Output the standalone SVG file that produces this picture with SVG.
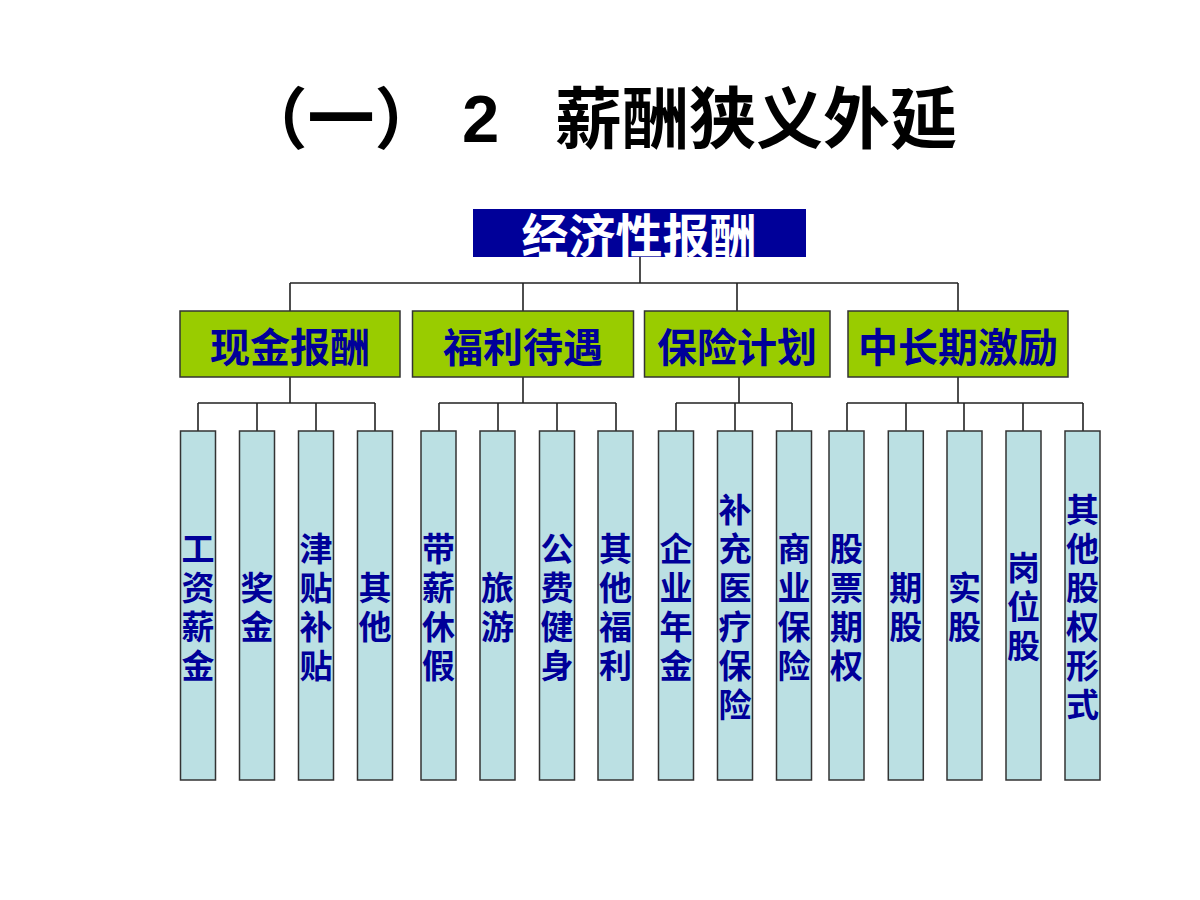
<svg xmlns="http://www.w3.org/2000/svg" width="1200" height="900" viewBox="0 0 1200 900">
<style>
.cjk{font-family:"Noto Sans CJK SC","Noto Sans CJK JP",sans-serif;font-weight:700}
.title{font-size:67px;fill:#000}
.top{font-size:47px;fill:#fff}
.l2{fill:#99CC00;stroke:#333;stroke-width:1.5}
.l2t{font-size:40px;fill:#000099}
.leaf{fill:#BBE0E3;stroke:#333;stroke-width:1.5}
.lt{font-family:"Liberation Sans","Noto Sans CJK SC","Noto Sans CJK JP",sans-serif;font-weight:700;font-size:33px;fill:#000099}
.conn{fill:none;stroke:#222;stroke-width:1.6}
</style>
<defs>
<clipPath id="topclip"><rect x="473" y="209" width="333" height="48"/></clipPath>
</defs>
<rect width="1200" height="900" fill="#fff"/>
<g id="title">
<text class="cjk title" x="341" y="143" text-anchor="middle">（一）</text>
<text x="462" y="142" font-family="Liberation Sans,Arial,sans-serif" font-weight="700" font-size="67">2</text>
<text class="cjk title" x="555" y="143">薪酬狭义外延</text>
</g>
<g id="connectors">
<path class="conn" d="M640 257V283M290 283H958M290 283V311M523 283V311M737 283V311M958 283V311"/>
<path class="conn" d="M290 377V403M198 403H375M198 403V431M257 403V431M316 403V431M375 403V431"/>
<path class="conn" d="M523 377V403M439 403H616M439 403V431M498 403V431M557 403V431M616 403V431"/>
<path class="conn" d="M739 377V403M676 403H792M676 403V431M735 403V431M792 403V431"/>
<path class="conn" d="M958 377V403M847 403H1083M847 403V431M906 403V431M964 403V431M1023 403V431M1083 403V431"/>
</g>
<g id="root">
<rect x="473" y="209" width="333" height="48" fill="#000099"/>
<text class="cjk top" x="639" y="253" text-anchor="middle" clip-path="url(#topclip)">经济性报酬</text>
</g>
<g id="n-cash"><rect class="l2" x="180" y="311" width="220" height="66"/><text class="cjk l2t" x="290" y="362" text-anchor="middle">现金报酬</text></g>
<g id="n-welfare"><rect class="l2" x="412.5" y="311" width="221" height="66"/><text class="cjk l2t" x="523" y="362" text-anchor="middle">福利待遇</text></g>
<g id="n-insurance"><rect class="l2" x="644.5" y="311" width="185.5" height="66"/><text class="cjk l2t" x="737" y="362" text-anchor="middle">保险计划</text></g>
<g id="n-incentive"><rect class="l2" x="848" y="311" width="220" height="66"/><text class="cjk l2t" x="958" y="362" text-anchor="middle">中长期激励</text></g>

<g id="leaf1"><rect class="leaf" x="180.5" y="431" width="35" height="349"/><text class="lt" text-anchor="middle"><tspan x="198" y="561">工</tspan><tspan x="198" y="600">资</tspan><tspan x="198" y="639">薪</tspan><tspan x="198" y="678">金</tspan></text></g>
<g id="leaf2"><rect class="leaf" x="239.5" y="431" width="35" height="349"/><text class="lt" text-anchor="middle"><tspan x="257" y="600">奖</tspan><tspan x="257" y="639">金</tspan></text></g>
<g id="leaf3"><rect class="leaf" x="298.5" y="431" width="35" height="349"/><text class="lt" text-anchor="middle"><tspan x="316" y="561">津</tspan><tspan x="316" y="600">贴</tspan><tspan x="316" y="639">补</tspan><tspan x="316" y="678">贴</tspan></text></g>
<g id="leaf4"><rect class="leaf" x="357.5" y="431" width="35" height="349"/><text class="lt" text-anchor="middle"><tspan x="375" y="600">其</tspan><tspan x="375" y="639">他</tspan></text></g>
<g id="leaf5"><rect class="leaf" x="421" y="431" width="35" height="349"/><text class="lt" text-anchor="middle"><tspan x="438.5" y="561">带</tspan><tspan x="438.5" y="600">薪</tspan><tspan x="438.5" y="639">休</tspan><tspan x="438.5" y="678">假</tspan></text></g>
<g id="leaf6"><rect class="leaf" x="480" y="431" width="35" height="349"/><text class="lt" text-anchor="middle"><tspan x="497.5" y="600">旅</tspan><tspan x="497.5" y="639">游</tspan></text></g>
<g id="leaf7"><rect class="leaf" x="539.5" y="431" width="35" height="349"/><text class="lt" text-anchor="middle"><tspan x="557" y="561">公</tspan><tspan x="557" y="600">费</tspan><tspan x="557" y="639">健</tspan><tspan x="557" y="678">身</tspan></text></g>
<g id="leaf8"><rect class="leaf" x="598" y="431" width="35" height="349"/><text class="lt" text-anchor="middle"><tspan x="615.5" y="561">其</tspan><tspan x="615.5" y="600">他</tspan><tspan x="615.5" y="639">福</tspan><tspan x="615.5" y="678">利</tspan></text></g>
<g id="leaf9"><rect class="leaf" x="658.5" y="431" width="35" height="349"/><text class="lt" text-anchor="middle"><tspan x="676" y="561">企</tspan><tspan x="676" y="600">业</tspan><tspan x="676" y="639">年</tspan><tspan x="676" y="678">金</tspan></text></g>
<g id="leaf10"><rect class="leaf" x="717.5" y="431" width="35" height="349"/><text class="lt" text-anchor="middle"><tspan x="735" y="522">补</tspan><tspan x="735" y="561">充</tspan><tspan x="735" y="600">医</tspan><tspan x="735" y="639">疗</tspan><tspan x="735" y="678">保</tspan><tspan x="735" y="717">险</tspan></text></g>
<g id="leaf11"><rect class="leaf" x="776.5" y="431" width="35" height="349"/><text class="lt" text-anchor="middle"><tspan x="794" y="561">商</tspan><tspan x="794" y="600">业</tspan><tspan x="794" y="639">保</tspan><tspan x="794" y="678">险</tspan></text></g>
<g id="leaf12"><rect class="leaf" x="829" y="431" width="35" height="349"/><text class="lt" text-anchor="middle"><tspan x="846.5" y="561">股</tspan><tspan x="846.5" y="600">票</tspan><tspan x="846.5" y="639">期</tspan><tspan x="846.5" y="678">权</tspan></text></g>
<g id="leaf13"><rect class="leaf" x="888.3" y="431" width="35" height="349"/><text class="lt" text-anchor="middle"><tspan x="905.8" y="600">期</tspan><tspan x="905.8" y="639">股</tspan></text></g>
<g id="leaf14"><rect class="leaf" x="947" y="431" width="35" height="349"/><text class="lt" text-anchor="middle"><tspan x="964.5" y="600">实</tspan><tspan x="964.5" y="639">股</tspan></text></g>
<g id="leaf15"><rect class="leaf" x="1006" y="431" width="35" height="349"/><text class="lt" text-anchor="middle"><tspan x="1023.5" y="580">岗</tspan><tspan x="1023.5" y="619">位</tspan><tspan x="1023.5" y="658">股</tspan></text></g>
<g id="leaf16"><rect class="leaf" x="1065" y="431" width="35" height="349"/><text class="lt" text-anchor="middle"><tspan x="1082.5" y="522">其</tspan><tspan x="1082.5" y="561">他</tspan><tspan x="1082.5" y="600">股</tspan><tspan x="1082.5" y="639">权</tspan><tspan x="1082.5" y="678">形</tspan><tspan x="1082.5" y="717">式</tspan></text></g>
</svg>
